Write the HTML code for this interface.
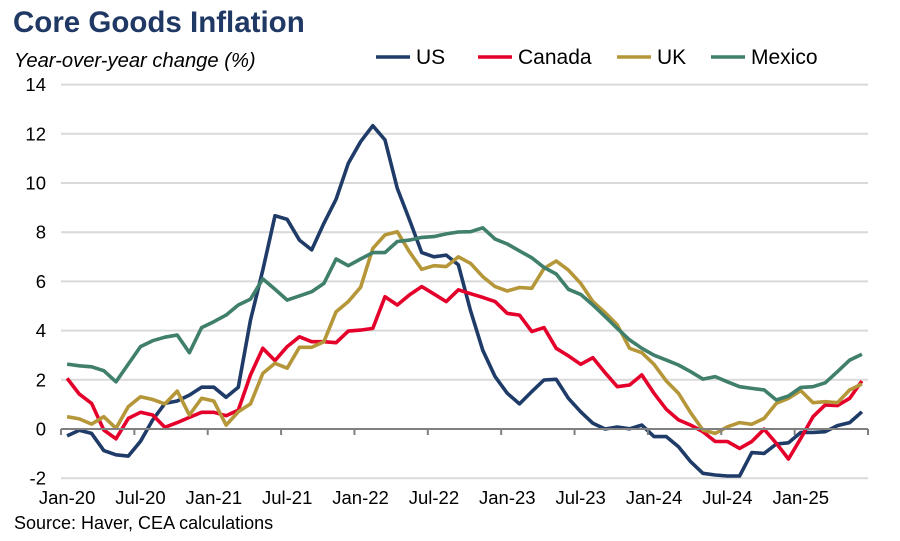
<!DOCTYPE html>
<html><head><meta charset="utf-8"><style>
body{margin:0;background:#fff;}
svg{display:block;font-family:"Liberation Sans",Arial,sans-serif;}
</style></head><body>
<svg id="chart" width="900" height="541" viewBox="0 0 900 541" xmlns="http://www.w3.org/2000/svg">
<text x="13" y="32" font-size="29.5" font-weight="bold" fill="#1f3864">Core Goods Inflation</text>
<text x="14" y="67" font-size="20.2" font-style="italic" fill="#000">Year-over-year change (%)</text>
<g id="grid"></g>
<g id="series"></g>
<g id="axes"></g>
<g id="legend"></g>
<text x="14" y="529" font-size="18" fill="#000">Source: Haver, CEA calculations</text>
</svg>
<script>
const xLabels=["Jan-20","Jul-20","Jan-21","Jul-21","Jan-22","Jul-22","Jan-23","Jul-23","Jan-24","Jul-24","Jan-25"];
const yTicks=[-2,0,2,4,6,8,10,12,14];
const us=[-0.28,-0.05,-0.18,-0.88,-1.05,-1.1,-0.5,0.37,1.04,1.14,1.38,1.7,1.7,1.29,1.7,4.43,6.46,8.67,8.52,7.68,7.28,8.36,9.34,10.8,11.68,12.33,11.75,9.78,8.5,7.17,7.0,7.07,6.67,4.8,3.2,2.13,1.45,1.02,1.52,1.99,2.02,1.25,0.7,0.23,0.0,0.08,0.01,0.16,-0.31,-0.31,-0.72,-1.33,-1.8,-1.87,-1.91,-1.91,-0.96,-0.99,-0.61,-0.56,-0.14,-0.14,-0.11,0.14,0.26,0.7];
const canada=[2.06,1.42,1.04,-0.04,-0.4,0.43,0.68,0.57,0.07,0.26,0.47,0.68,0.68,0.54,0.77,2.2,3.28,2.78,3.35,3.75,3.55,3.55,3.51,3.98,4.02,4.09,5.38,5.04,5.45,5.79,5.49,5.18,5.66,5.5,5.35,5.18,4.7,4.63,3.96,4.12,3.28,2.97,2.63,2.9,2.29,1.72,1.79,2.2,1.45,0.8,0.37,0.16,-0.11,-0.51,-0.51,-0.79,-0.51,-0.01,-0.58,-1.22,-0.38,0.5,0.98,0.95,1.25,1.95];
const uk=[0.5,0.41,0.2,0.5,0.03,0.91,1.31,1.2,1.02,1.54,0.57,1.25,1.14,0.16,0.7,1.02,2.26,2.67,2.47,3.32,3.32,3.55,4.77,5.18,5.76,7.34,7.89,8.02,7.2,6.49,6.64,6.6,7.0,6.73,6.19,5.79,5.61,5.75,5.72,6.53,6.83,6.46,5.92,5.18,4.73,4.23,3.28,3.1,2.63,1.95,1.45,0.66,-0.04,-0.18,0.09,0.26,0.19,0.43,1.04,1.25,1.56,1.07,1.11,1.07,1.59,1.83];
const mexico=[2.64,2.57,2.53,2.37,1.92,2.64,3.35,3.59,3.73,3.82,3.1,4.12,4.36,4.63,5.04,5.28,6.1,5.68,5.24,5.41,5.58,5.92,6.91,6.64,6.91,7.17,7.17,7.62,7.68,7.79,7.82,7.93,8.01,8.02,8.18,7.72,7.52,7.24,6.96,6.57,6.3,5.68,5.47,5.04,4.57,4.09,3.62,3.28,3.0,2.8,2.6,2.33,2.03,2.13,1.92,1.72,1.65,1.59,1.18,1.34,1.69,1.72,1.88,2.33,2.8,3.04];
const seriesNames=["US","Canada","UK","Mexico"];
const seriesColors=["#1f3b68","#e4002b","#b5973a","#3f7f6b"];
const allSeries=[us,canada,uk,mexico];
const NS="http://www.w3.org/2000/svg";
const x0=61,x1=868,nCat=us.length,step=(x1-x0)/nCat;
function xPos(i){return x0+(i+0.5)*step;}
function yPos(v){return 429-v*24.6;}
function mk(t,a,p){const e=document.createElementNS(NS,t);for(const k in a)e.setAttribute(k,a[k]);p.appendChild(e);return e;}
const grid=document.getElementById('grid'),axes=document.getElementById('axes'),ser=document.getElementById('series'),leg=document.getElementById('legend');
yTicks.forEach(v=>{
 if(v!==0){const l=mk('line',{x1:x0,x2:x1,y1:yPos(v),y2:yPos(v),stroke:'#d9d9d9','stroke-width':2},grid);
 
 }
 const t=mk('text',{x:46,y:yPos(v)+6.5,'text-anchor':'end','font-size':18.5,fill:'#000'},axes);
 t.textContent=v;
 
 
});
const ax=mk('line',{x1:x0,x2:x1,y1:yPos(0),y2:yPos(0),stroke:'#808080','stroke-width':2},axes);


for(let k=0;k<=nCat;k+=6){
 const tk=mk('line',{x1:x0+k*step,x2:x0+k*step,y1:yPos(0),y2:yPos(0)+6,stroke:'#808080','stroke-width':2},axes);
 
 
}
xLabels.forEach((s,j)=>{
 const t=mk('text',{x:xPos(j*6),y:504,'text-anchor':'middle','font-size':18.5,fill:'#000'},axes);
 t.textContent=s;
 
 
});
allSeries.forEach((d,s)=>{
 const pts=d.map((v,i)=>xPos(i).toFixed(1)+','+yPos(v).toFixed(1)).join(' ');
 const p=mk('polyline',{points:pts,fill:'none',stroke:seriesColors[s],'stroke-width':3.6,'stroke-linejoin':'round'},ser);
 
 
});
const legX=[376,478,617,711];
seriesNames.forEach((n,s)=>{
 const g=mk('g',{},leg);
 
 
 mk('line',{x1:legX[s],x2:legX[s]+34,y1:57,y2:57,stroke:seriesColors[s],'stroke-width':3.6},g);
 const t=mk('text',{x:legX[s]+40,y:64,'font-size':21,fill:'#000'},g);
 t.textContent=n;
});
</script>
</body></html>
